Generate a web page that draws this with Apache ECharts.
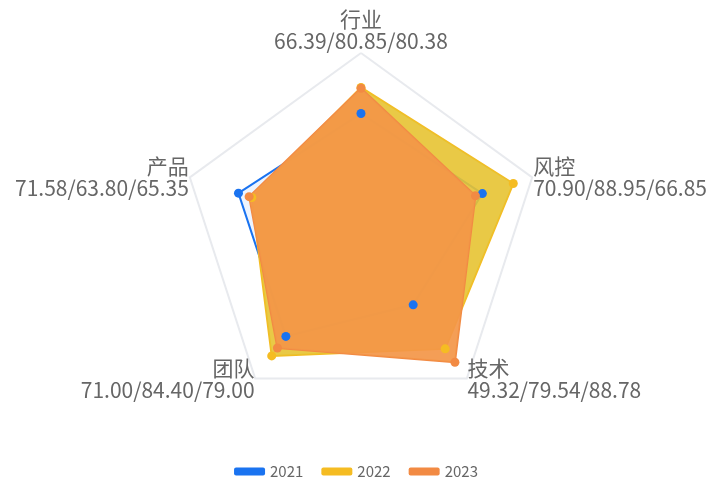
<!DOCTYPE html>
<html>
<head>
<meta charset="utf-8">
<script src="https://cdn.jsdelivr.net/npm/echarts@6/dist/echarts.min.js"></script>
<style>
  html, body { margin: 0; padding: 0; background: #fff; }
  #radar { width: 712px; height: 485px; }
</style>
</head>
<body>
<div id="radar"></div>
<script>
// 维度（ECharts 雷达按逆时针排列）
const indicators = ['行业', '产品', '团队', '技术', '风控'];
const years = ['2021', '2022', '2023'];
// 各年得分，顺序同 indicators
const data2021 = [66.39, 71.58, 71.00, 49.32, 70.90];
const data2022 = [80.85, 63.80, 84.40, 79.54, 88.95];
const data2023 = [80.38, 65.35, 79.00, 88.78, 66.85];
const colors = ['#1a73f0', '#f5bc22', '#f28a43'];
const areaColors = ['rgba(26,115,240,0.08)', 'rgba(231,195,50,0.9)', 'rgba(243,150,72,0.92)'];

let chart = echarts.init(document.getElementById('radar'));
let allData = [data2021, data2022, data2023];
const font = "'Noto Sans CJK SC', 'Noto Sans', sans-serif";

let option = {
  backgroundColor: '#fff',
  color: colors,
  textStyle: { fontFamily: font },
  legend: {
    data: years,
    bottom: 1,
    icon: 'roundRect',
    itemWidth: 31,
    itemHeight: 8,
    itemGap: 18,
    textStyle: { color: '#666', fontSize: 15, fontFamily: font }
  },
  radar: {
    center: [361, 233],
    radius: 180,
    splitNumber: 1,
    nameGap: 1,
    indicator: indicators.map(n => ({ name: n, max: 100 })),
    axisName: {
      color: '#666',
      fontSize: 21,
      lineHeight: 22,
      fontFamily: font,
      formatter: function (name) {
        let i = indicators.indexOf(name);
        return name + '\n' + allData.map(d => d[i].toFixed(2)).join('/');
      }
    },
    axisLine: { show: false },
    splitLine: { lineStyle: { color: '#e8eaee', width: 2 } },
    splitArea: { show: false }
  },
  series: [{
    type: 'radar',
    symbol: 'circle',
    symbolSize: 9,
    lineStyle: { width: 2 },
    data: allData.map((d, i) => ({
      name: years[i],
      value: d,
      itemStyle: { color: colors[i] },
      lineStyle: { color: colors[i], width: 2 },
      areaStyle: { color: areaColors[i], opacity: 1 }
    }))
  }]
};
chart.setOption(option);
</script>
</body>
</html>
